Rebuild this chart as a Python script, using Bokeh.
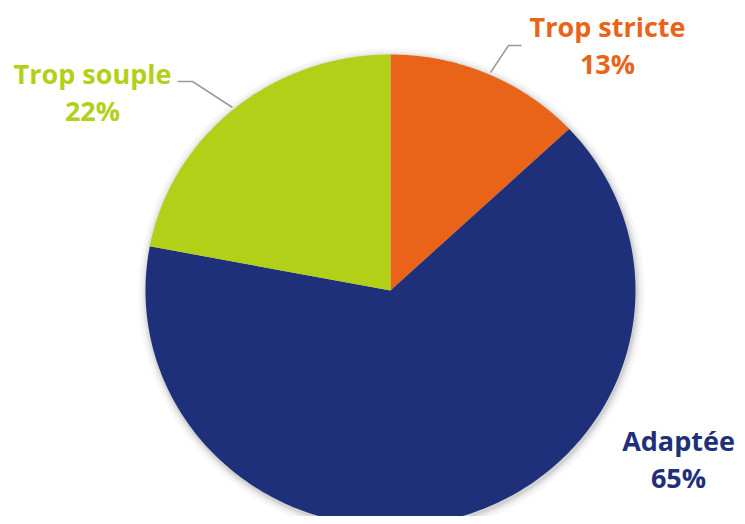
import numpy as np
from bokeh.plotting import figure
from bokeh.models import Range1d, ColumnDataSource
from bokeh.core.properties import value
from bokeh.embed import file_html
from bokeh.resources import INLINE

# ---- data ----
categories = ["Trop stricte", "Adaptée", "Trop souple"]
shares = [13, 65, 22]
pct_labels = ["13%", "65%", "22%"]

# ---- styles ----
colors = ["#E96419", "#1F307A", "#B2D018"]
W, H = 737, 516
p = figure(width=W, height=H, output_backend="svg", toolbar_location=None,
           x_range=Range1d(0, W), y_range=Range1d(H, 0),
           min_border=0, background_fill_color="white", border_fill_color="white")
p.axis.visible = False
p.grid.visible = False
p.outline_line_color = None

cx, cy, rx, ry = 390, 290, 245, 236

# soft shadow
for k, a in [(8, 0.03), (5, 0.04), (3, 0.05), (1.5, 0.06)]:
    p.ellipse(x=cx + 1, y=cy + 2, width=2 * (rx + k), height=2 * (ry + k),
              fill_color="#000000", fill_alpha=a, line_color=None)

total = float(sum(shares))
cum = np.concatenate([[0], np.cumsum(shares)]) / total * 2 * np.pi
xs, ys = [], []
for i in range(len(shares)):
    t = np.linspace(cum[i], cum[i + 1], 200)
    xs.append(list(np.concatenate([[cx], cx + rx * np.sin(t)])))
    ys.append(list(np.concatenate([[cy], cy - ry * np.cos(t)])))
src = ColumnDataSource(dict(xs=xs, ys=ys, color=colors, cat=categories))
p.patches("xs", "ys", fill_color="color", line_color=None, source=src)

# leader lines
p.line([490, 508, 521], [72, 45, 45], line_color="#9A9A9A", line_width=1.5)
p.line([177, 192, 232], [81, 81, 107], line_color="#9A9A9A", line_width=1.5)

# labels
name_x = [607, 678, 92]
name_y = [26, 440, 73]
pct_x = [607, 678, 92]
pct_y = [63, 477, 110]
lsrc = ColumnDataSource(dict(nx=name_x, ny=name_y, px=pct_x, py=pct_y,
                             name=categories, pct=pct_labels, color=colors))
p.text("nx", "ny", text="name", text_color="color", source=lsrc,
       text_font=value("Open Sans"), text_font_style="bold", text_font_size="27px",
       text_align="center", text_baseline="middle")
p.text("px", "py", text="pct", text_color="color", source=lsrc,
       text_font=value("Open Sans"), text_font_style="bold", text_font_size="27px",
       text_align="center", text_baseline="middle")

open("out.html", "w").write(file_html(p, INLINE))
